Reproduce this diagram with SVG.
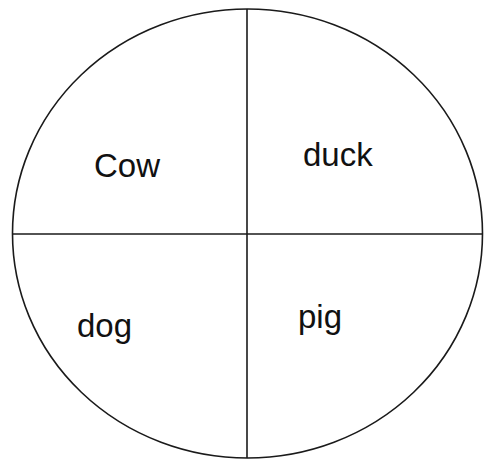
<svg xmlns="http://www.w3.org/2000/svg" width="485" height="459" viewBox="0 0 485 459">
<style>
.ln{fill:none;stroke:#1a1a1a;stroke-width:1.6}
.lb{font-family:"Liberation Sans",Arial,sans-serif;font-size:33px;fill:#111}
</style>
<rect width="485" height="459" fill="#fff"/>
<g id="circle"><ellipse class="ln" cx="247.5" cy="233.5" rx="235" ry="224.5"/></g>
<g id="connectors">
<line class="ln" x1="247" y1="9" x2="247" y2="458"/>
<line class="ln" x1="12.5" y1="234" x2="482.5" y2="234"/>
</g>
<g id="cow"><text class="lb" x="94" y="177">Cow</text></g>
<g id="duck"><text class="lb" x="303" y="166">duck</text></g>
<g id="dog"><text class="lb" x="77" y="337">dog</text></g>
<g id="pig"><text class="lb" x="298" y="328">pig</text></g>
</svg>
